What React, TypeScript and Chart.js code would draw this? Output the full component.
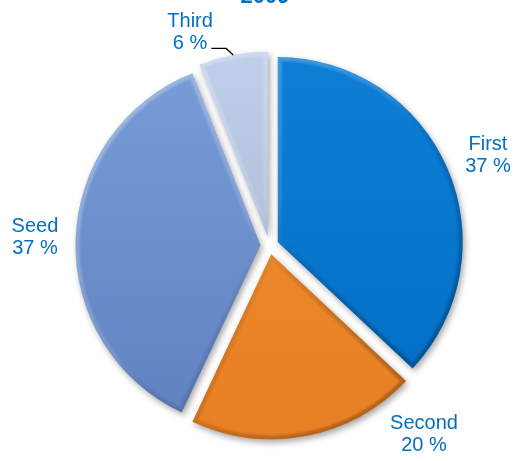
import React, { useEffect, useRef } from 'react';
import { Chart, registerables } from 'chart.js';

Chart.register(...registerables);

// ---- data ----
const categories = ['First', 'Second', 'Seed', 'Third'];
const shares = [37, 20, 37, 6];
const titleText = '2009';

// ---- style ----
const topColors = ['#0F80D6', '#F48F33', '#7A9FDA', '#C2D1EC'];
const bottomColors = ['#006CC4', '#E67E22', '#5E7FBE', '#A0AFCB'];
const EXPLODE = 9;
const RADIUS = 185;
const labelShiftDeg = [0.6, -28.7, 0.5, -9.5];
const labelDist = [1.281, 1.313, 1.269, 1.237];
const leaderLines = [false, false, false, true];
const FONT_FAMILY = '"Liberation Sans", Arial, sans-serif';
const LABEL_COLOR = '#0070C0';

const explodedPiePlugin = {
  id: 'explodedPie',
  beforeDatasetDraw(chart: any, args: any) {
    const ctx: CanvasRenderingContext2D = chart.ctx;
    const meta = args.meta;
    meta.data.forEach((arc: any) => {
      const { x, y, startAngle, endAngle, outerRadius } = arc.getProps(
        ['x', 'y', 'startAngle', 'endAngle', 'outerRadius'],
        true
      );
      const mid = (startAngle + endAngle) / 2;
      const dx = Math.cos(mid) * EXPLODE;
      const dy = Math.sin(mid) * EXPLODE;
      // slice with soft drop shadow
      ctx.save();
      ctx.translate(dx, dy);
      ctx.shadowColor = 'rgba(0,0,0,0.35)';
      ctx.shadowBlur = 6;
      ctx.shadowOffsetX = 2;
      ctx.shadowOffsetY = 3;
      arc.draw(ctx);
      ctx.restore();
      // bevel rim
      const cx = x + dx;
      const cy = y + dy;
      ctx.save();
      ctx.beginPath();
      ctx.moveTo(cx, cy);
      ctx.arc(cx, cy, outerRadius, startAngle, endAngle);
      ctx.closePath();
      ctx.clip();
      const g = ctx.createLinearGradient(cx - outerRadius, cy - outerRadius, cx + outerRadius, cy + outerRadius);
      g.addColorStop(0, 'rgba(255,255,255,0.35)');
      g.addColorStop(0.45, 'rgba(255,255,255,0.12)');
      g.addColorStop(0.55, 'rgba(0,0,0,0.08)');
      g.addColorStop(1, 'rgba(0,0,0,0.32)');
      ctx.filter = 'blur(1.2px)';
      ctx.lineJoin = 'round';
      ctx.lineWidth = 8;
      ctx.strokeStyle = g;
      ctx.beginPath();
      ctx.moveTo(cx, cy);
      ctx.arc(cx, cy, outerRadius, startAngle, endAngle);
      ctx.closePath();
      ctx.stroke();
      ctx.restore();
    });
    return false;
  },
};

const labelsPlugin = {
  id: 'pieLabels',
  afterDraw(chart: any) {
    const ctx: CanvasRenderingContext2D = chart.ctx;
    const meta = chart.getDatasetMeta(0);
    const total = shares.reduce((a, b) => a + b, 0);
    ctx.save();
    ctx.font = '20px ' + FONT_FAMILY;
    ctx.fillStyle = LABEL_COLOR;
    ctx.textAlign = 'center';
    ctx.textBaseline = 'alphabetic';
    meta.data.forEach((arc: any, i: number) => {
      const { x, y, startAngle, endAngle, outerRadius } = arc.getProps(
        ['x', 'y', 'startAngle', 'endAngle', 'outerRadius'],
        true
      );
      const mid = (startAngle + endAngle) / 2;
      const ang = mid + (labelShiftDeg[i] * Math.PI) / 180;
      const lx = x + Math.cos(ang) * outerRadius * labelDist[i];
      const ly = y + Math.sin(ang) * outerRadius * labelDist[i];
      const pct = Math.round((shares[i] / total) * 100) + ' %';
      ctx.fillText(categories[i], lx, ly - 3.8);
      ctx.fillText(pct, lx, ly + 18.2);
      if (leaderLines[i]) {
        const w = ctx.measureText(pct).width;
        const sx = lx + w / 2 + 4;
        const sy = ly + 17.5;
        const ex = x + Math.cos(mid) * (outerRadius + EXPLODE);
        const ey = y + Math.sin(mid) * (outerRadius + EXPLODE);
        ctx.beginPath();
        ctx.strokeStyle = '#000000';
        ctx.lineWidth = 1.4;
        ctx.moveTo(sx, sy);
        ctx.lineTo(ex - 7, sy);
        ctx.lineTo(ex, ey);
        ctx.stroke();
      }
    });
    // title (partly above the visible area, as in the reference)
    ctx.font = 'bold 22px ' + FONT_FAMILY;
    ctx.fillText(titleText, 265, 3);
    ctx.restore();
  },
};

export default function App() {
  const canvasRef = useRef<HTMLCanvasElement | null>(null);

  useEffect(() => {
    if (!canvasRef.current) return;
    const chart = new Chart(canvasRef.current, {
      type: 'pie',
      data: {
        labels: categories,
        datasets: [
          {
            data: shares,
            borderWidth: 0,
            backgroundColor: (c: any) => {
              const area = c.chart.chartArea;
              const i = c.dataIndex;
              if (!area) return topColors[i];
              const g = c.chart.ctx.createLinearGradient(0, area.top, 0, area.bottom);
              g.addColorStop(0, topColors[i]);
              g.addColorStop(1, bottomColors[i]);
              return g;
            },
          },
        ],
      },
      options: {
        responsive: false,
        animation: false,
        events: [],
        radius: RADIUS,
        layout: { padding: { left: 23, right: 0, top: 30, bottom: 0 } },
        plugins: {
          legend: { display: false },
          tooltip: { enabled: false },
          title: { display: false },
        },
      } as any,
      plugins: [explodedPiePlugin, labelsPlugin],
    });
    return () => chart.destroy();
  }, []);

  return (
    <div style={{ position: 'fixed', left: 0, top: 0, width: 516, height: 461, background: '#ffffff' }}>
      <canvas ref={canvasRef} width={516} height={461} style={{ display: 'block' }} />
    </div>
  );
}
